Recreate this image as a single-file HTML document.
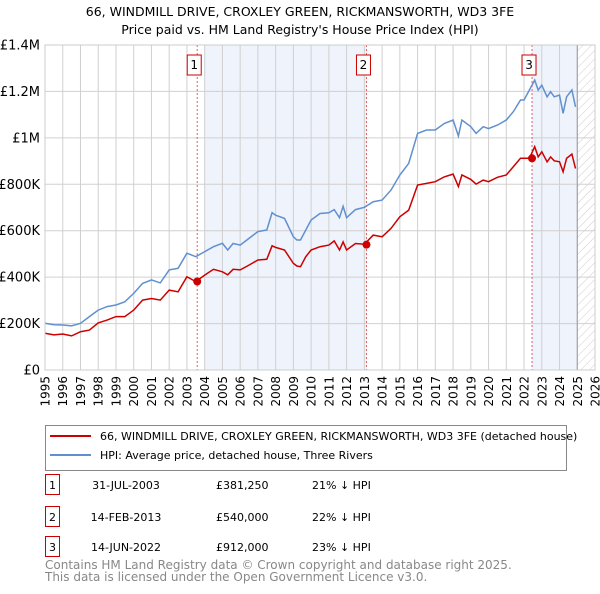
<!DOCTYPE html>
<html><head><meta charset="utf-8"><style>
body{margin:0;background:#fff;font-family:"DejaVu Sans","Liberation Sans",sans-serif;}
svg text{font-family:"DejaVu Sans","Liberation Sans",sans-serif;}
</style></head><body>
<svg id="c" width="600" height="590" xmlns="http://www.w3.org/2000/svg">
<defs><pattern id="hatch" width="6" height="6" patternUnits="userSpaceOnUse" patternTransform="rotate(45)"><line x1="0" y1="0" x2="0" y2="6" stroke="#ccc" stroke-width="1"/></pattern></defs>
<text x="300" y="16" text-anchor="middle" font-size="12.5">66, WINDMILL DRIVE, CROXLEY GREEN, RICKMANSWORTH, WD3 3FE</text>
<text x="300" y="34" text-anchor="middle" font-size="12.5">Price paid vs. HM Land Registry's House Price Index (HPI)</text>
<g id="plot"></g>
<rect x="45.5" y="425.5" width="521" height="45" fill="#fff" stroke="#888"/>
<line x1="50" y1="436" x2="91" y2="436" stroke="#cc0000" stroke-width="2"/>
<text x="100" y="440" font-size="11">66, WINDMILL DRIVE, CROXLEY GREEN, RICKMANSWORTH, WD3 3FE (detached house)</text>
<line x1="50" y1="455" x2="91" y2="455" stroke="#6090d0" stroke-width="2"/>
<text x="100" y="459" font-size="11">HPI: Average price, detached house, Three Rivers</text>
<g font-size="11">
<rect x="45.5" y="474.5" width="14" height="20" fill="#fff" stroke="#cc0000"/><text x="52.5" y="489" text-anchor="middle">1</text>
<text x="126" y="489" text-anchor="middle">31-JUL-2003</text>
<text x="216" y="489">£381,250</text>
<text x="312" y="489">21% ↓ HPI</text>
<rect x="45.5" y="506.5" width="14" height="20" fill="#fff" stroke="#cc0000"/><text x="52.5" y="521" text-anchor="middle">2</text>
<text x="126" y="521" text-anchor="middle">14-FEB-2013</text>
<text x="216" y="521">£540,000</text>
<text x="312" y="521">22% ↓ HPI</text>
<rect x="45.5" y="536.5" width="14" height="20" fill="#fff" stroke="#cc0000"/><text x="52.5" y="551" text-anchor="middle">3</text>
<text x="126" y="551" text-anchor="middle">14-JUN-2022</text>
<text x="216" y="551">£912,000</text>
<text x="312" y="551">23% ↓ HPI</text>
</g>
<text x="45" y="569" font-size="12" fill="#888">Contains HM Land Registry data © Crown copyright and database right 2025.</text>
<text x="45" y="581" font-size="12" fill="#888">This data is licensed under the Open Government Licence v3.0.</text>
</svg>
<script>
const hpiYears=[1995,1995.5,1996,1996.5,1997,1997.5,1998,1998.5,1999,1999.5,2000,2000.5,2001,2001.5,2002,2002.5,2003,2003.5,2004,2004.5,2005,2005.3,2005.6,2006,2006.5,2007,2007.5,2007.8,2008,2008.5,2009,2009.2,2009.4,2009.7,2010,2010.5,2011,2011.3,2011.6,2011.8,2012,2012.5,2013,2013.5,2014,2014.5,2015,2015.5,2016,2016.5,2017,2017.5,2018,2018.3,2018.5,2019,2019.3,2019.7,2020,2020.5,2021,2021.4,2021.8,2022,2022.3,2022.6,2022.8,2023,2023.3,2023.5,2023.7,2024,2024.2,2024.4,2024.7,2024.9];
const hpiValues=[201,195,194,190,201,230,258,273,280,294,330,373,388,375,431,438,503,488,510,531,546,517,545,538,567,596,603,678,667,653,574,560,560,603,646,674,677,691,656,705,656,691,701,725,732,775,840,890,1019,1034,1034,1062,1077,1008,1077,1048,1019,1048,1040,1055,1077,1113,1163,1163,1206,1249,1206,1227,1177,1199,1177,1184,1106,1177,1206,1134];
const ppYears=hpiYears;
const ppValues=[158,151,155,147,165,172,203,215,230,230,258,301,308,301,344,337,402,381,409,434,423,410,434,431,452,474,477,535,528,517,459,448,445,488,517,531,538,556,517,552,517,545,542,581,574,610,660,689,797,804,811,832,844,790,840,821,801,818,811,830,840,876,912,912,912,962,918,940,897,918,901,897,854,912,930,868];
const saleDates=[2003.58,2013.12,2022.45];
const salePrices=[381.25,540,912];
const saleLabels=["1","2","3"];
const yTicks=[0,200,400,600,800,1000,1200,1400];
const yTickLabels=["£0","£200K","£400K","£600K","£800K","£1M","£1.2M","£1.4M"];
const xTicks=[];for(let y=1995;y<=2026;y++)xTicks.push(y);

const X0=45,X1=595,Y0=370,Y1=45;
const xs=v=>X0+(v-1995)/(2026-1995)*(X1-X0);
const ys=v=>Y0-v/1400*(Y0-Y1);
const NS="http://www.w3.org/2000/svg";
const g=document.getElementById('plot');
function mk(t,a,p){const e=document.createElementNS(NS,t);for(const k in a)e.setAttribute(k,a[k]);(p||g).appendChild(e);return e;}

const sh=[[2004.0,saleDates[1]],[saleDates[2],2025.0]];
sh.forEach((s,i)=>{const r=mk('rect',{x:xs(s[0]),y:Y1,width:xs(s[1])-xs(s[0]),height:Y0-Y1,fill:'#eef3fc'});

});
const hr=mk('rect',{x:xs(2025),y:Y1,width:X1-xs(2025),height:Y0-Y1,fill:'url(#hatch)'});


xTicks.forEach(t=>{const l=mk('line',{x1:xs(t),x2:xs(t),y1:Y1,y2:Y0,stroke:'#d0d0d0','stroke-width':1});


const tx=mk('text',{x:0,y:0,'font-size':12,'text-anchor':'end',transform:`translate(${xs(t)+4.5},376) rotate(-90)`});tx.textContent=t;

});
yTicks.forEach((t,i)=>{const l=mk('line',{x1:X0,x2:X1,y1:ys(t),y2:ys(t),stroke:'#d0d0d0','stroke-width':1});


const tx=mk('text',{x:40,y:ys(t)+4.5,'font-size':13,'text-anchor':'end'});tx.textContent=yTickLabels[i];

});
const vl=mk('line',{x1:xs(2025),x2:xs(2025),y1:Y1,y2:Y0,stroke:'#999','stroke-width':1});


saleDates.forEach((d,i)=>{const l=mk('line',{x1:xs(d),x2:xs(d),y1:Y1,y2:Y0,stroke:'#e06060','stroke-width':1,'stroke-dasharray':'2,2'});


const bx=xs(d)-3;
const b=mk('rect',{x:bx-7,y:55,width:14,height:20,fill:'#fff',stroke:'#cc0000'});


const t=mk('text',{x:bx,y:69,'font-size':12,'text-anchor':'middle'});t.textContent=saleLabels[i];

});
const path=(xa,va)=>xa.map((x,i)=>(i?'L':'M')+xs(x).toFixed(1)+','+ys(va[i]).toFixed(1)).join('');
const hp=mk('path',{d:path(hpiYears,hpiValues),fill:'none',stroke:'#6090d0','stroke-width':1.5});


const pp=mk('path',{d:path(ppYears,ppValues),fill:'none',stroke:'#cc0000','stroke-width':1.5});


saleDates.forEach((d,i)=>{const c=mk('circle',{cx:xs(d),cy:ys(salePrices[i]),r:4,fill:'#cc0000'});

});
const fr=mk('rect',{x:X0,y:Y1,width:X1-X0,height:Y0-Y1,fill:'none',stroke:'#ccc'});


</script>
</body></html>
